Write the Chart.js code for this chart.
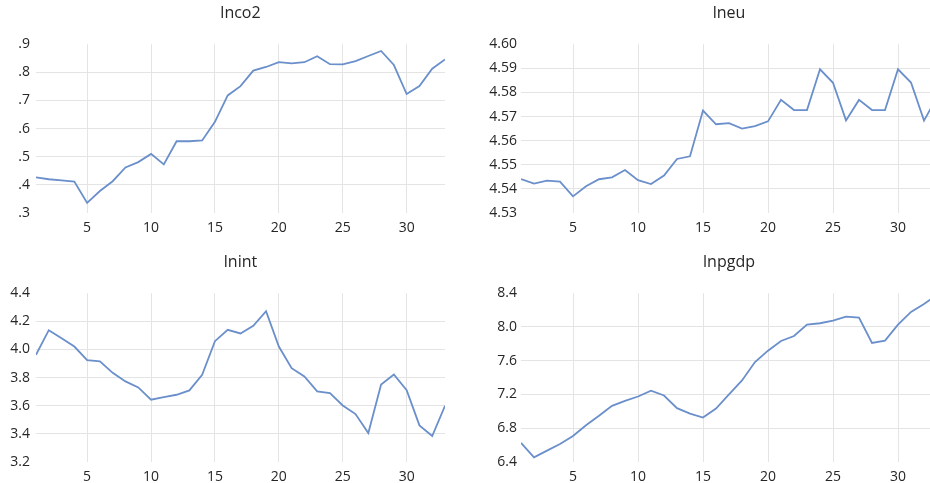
<!DOCTYPE html>
<html>
<head>
<meta charset="utf-8">
<script src="https://cdn.jsdelivr.net/npm/chart.js@4/dist/chart.umd.min.js"></script>
<style>
  html, body { margin: 0; padding: 0; background: #fff; overflow: hidden; width: 930px; height: 483px; }
  canvas { position: absolute; }
</style>
</head>
<body>
<canvas id="c1" width="465" height="240" style="left:0;top:0"></canvas>
<canvas id="c2" width="492" height="240" style="left:465px;top:0"></canvas>
<canvas id="c3" width="465" height="243" style="left:0;top:240px"></canvas>
<canvas id="c4" width="492" height="243" style="left:465px;top:240px"></canvas>
<script>
// Observation index (1..33)
const periods = [1,2,3,4,5,6,7,8,9,10,11,12,13,14,15,16,17,18,19,20,21,22,23,24,25,26,27,28,29,30,31,32,33];
const xTicks = [5, 10, 15, 20, 25, 30];

// Series
const lnco2 = [0.427,0.420,0.416,0.412,0.336,0.378,0.413,0.462,0.481,0.510,0.473,0.555,0.555,0.558,0.624,0.718,0.751,0.806,0.819,0.836,0.832,0.836,0.857,0.829,0.828,0.840,0.858,0.876,0.826,0.723,0.751,0.813,0.846];
const lneu = [4.5441,4.5422,4.5434,4.5430,4.5369,4.5411,4.5440,4.5448,4.5478,4.5436,4.5420,4.5455,4.5524,4.5535,4.5725,4.5668,4.5673,4.5650,4.5660,4.5680,4.5769,4.5727,4.5727,4.5896,4.5840,4.5684,4.5769,4.5727,4.5727,4.5896,4.5841,4.5683,4.5780];
const lnint = [3.962,4.137,4.080,4.021,3.924,3.915,3.834,3.773,3.730,3.643,3.662,3.678,3.709,3.820,4.059,4.140,4.114,4.168,4.272,4.021,3.867,3.808,3.702,3.690,3.602,3.541,3.406,3.751,3.822,3.711,3.460,3.385,3.600];
const lnpgdp = [6.626,6.455,6.535,6.614,6.709,6.836,6.947,7.065,7.125,7.176,7.244,7.188,7.038,6.974,6.927,7.034,7.200,7.366,7.584,7.719,7.834,7.893,8.028,8.044,8.075,8.123,8.111,7.810,7.838,8.028,8.178,8.273,8.380];

// Y tick values per panel
const lnco2Ticks = [0.3, 0.4, 0.5, 0.6, 0.7, 0.8, 0.9];
const lneuTicks = [4.53, 4.54, 4.55, 4.56, 4.57, 4.58, 4.59, 4.60];
const lnintTicks = [3.2, 3.4, 3.6, 3.8, 4.0, 4.2, 4.4];
const lnpgdpTicks = [6.4, 6.8, 7.2, 7.6, 8.0, 8.4];

const FONT = '"Open Sans", "Liberation Sans", sans-serif';
const LINE = '#6a8fcb';
const GRID = '#e4e4e4';
const TEXT = '#262626';

function makeChart(id, title, values, yTicks, fmt, o) {
  const ctx = document.getElementById(id);
  const last = yTicks.length - 1;
  return new Chart(ctx, {
    type: 'line',
    data: {
      datasets: [{
        data: periods.map((p, i) => ({ x: p, y: values[i] })),
        borderColor: LINE,
        borderWidth: 1.8,
        pointRadius: 0,
        tension: 0,
        fill: false
      }]
    },
    options: {
      responsive: false,
      animation: false,
      devicePixelRatio: 1,
      layout: { padding: { left: 0, right: o.padRight, top: 0, bottom: 0 } },
      plugins: {
        legend: { display: false },
        tooltip: { enabled: false },
        title: {
          display: true,
          text: title,
          fullSize: false,
          color: TEXT,
          font: { family: FONT, size: 16, weight: 'normal', lineHeight: 1.2 },
          padding: { top: o.titleTop, bottom: o.titleBottom }
        }
      },
      scales: {
        x: {
          type: 'linear',
          min: 1,
          max: 33,
          afterBuildTicks: axis => { axis.ticks = xTicks.map(v => ({ value: v })); },
          afterFit: axis => { axis.height = o.xHeight; },
          grid: { color: GRID, lineWidth: 1, drawTicks: false },
          border: { display: false },
          ticks: {
            padding: 7,
            color: TEXT,
            maxRotation: 0,
            font: { family: FONT, size: 14 },
            callback: v => String(v)
          }
        },
        y: {
          type: 'linear',
          min: yTicks[0],
          max: yTicks[last],
          afterBuildTicks: axis => { axis.ticks = yTicks.map(v => ({ value: v })); },
          afterFit: axis => { axis.width = o.yWidth; },
          grid: {
            lineWidth: 1,
            drawTicks: false,
            color: c => (c.index === 0 || c.index === last) ? 'rgba(0,0,0,0)' : GRID
          },
          border: { display: false },
          ticks: {
            padding: o.yPad,
            color: TEXT,
            font: { family: FONT, size: 14 },
            callback: v => fmt(v)
          }
        }
      }
    }
  });
}

const noLead = v => v.toFixed(1).replace(/^0/, '');
const one = v => v.toFixed(1);
const two = v => v.toFixed(2);

makeChart('c1', 'lnco2', lnco2, lnco2Ticks, noLead,
  { padRight: 20, yWidth: 36, yPad: 6, titleTop: 4, titleBottom: 21, xHeight: 27 });
makeChart('c2', 'lneu', lneu, lneuTicks, two,
  { padRight: 20, yWidth: 56, yPad: 4, titleTop: 4, titleBottom: 21, xHeight: 27 });
makeChart('c3', 'lnint', lnint, lnintTicks, one,
  { padRight: 20, yWidth: 36, yPad: 6, titleTop: 13, titleBottom: 21, xHeight: 21 });
makeChart('c4', 'lnpgdp', lnpgdp, lnpgdpTicks, one,
  { padRight: 20, yWidth: 56, yPad: 4, titleTop: 13, titleBottom: 21, xHeight: 21 });
</script>
</body>
</html>
